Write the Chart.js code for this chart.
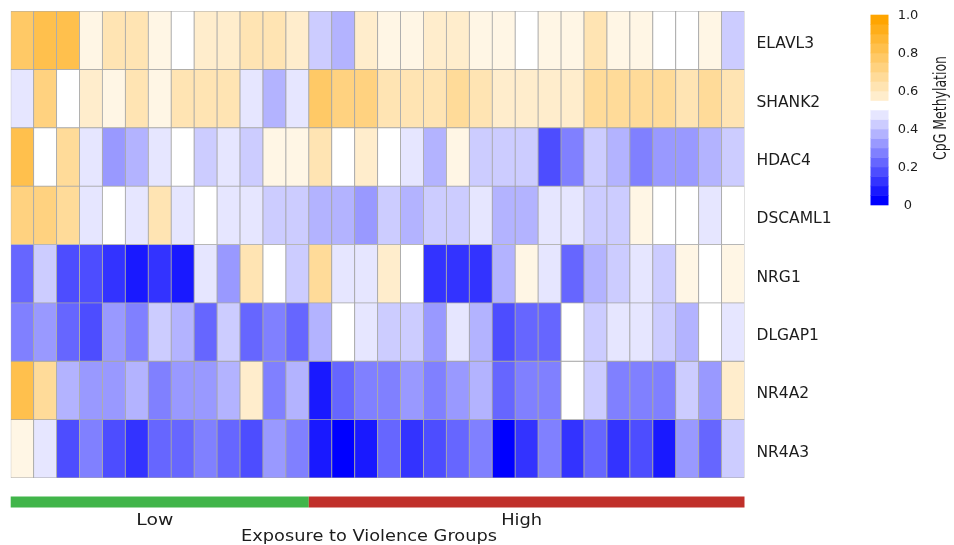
<!DOCTYPE html>
<html>
<head>
<meta charset="utf-8">
<script src="https://cdn.jsdelivr.net/npm/chart.js@4.4.0/dist/chart.umd.min.js"></script>
<style>
html,body{margin:0;padding:0;background:#ffffff;}
#wrap{width:954px;height:545px;position:relative;}
</style>
</head>
<body>
<div id="wrap"><canvas id="c"></canvas></div>
<script>
// ---- data ----
const genes = ['ELAVL3','SHANK2','HDAC4','DSCAML1','NRG1','DLGAP1','NR4A2','NR4A3'];
const samples = ['S1','S2','S3','S4','S5','S6','S7','S8','S9','S10','S11','S12','S13','S14','S15','S16',
                 'S17','S18','S19','S20','S21','S22','S23','S24','S25','S26','S27','S28','S29','S30','S31','S32'];
const groupNames = ['Low','High'];
const groupSizes = [13, 19];
const groupColors = ['#41b54a','#c0302a'];
const groupAxisTitle = 'Exposure to Violence Groups';

const elavl3  = [0.8,0.85,0.85,0.55,0.65,0.65,0.55,0.5,0.6,0.6,0.65,0.65,0.6,0.4,0.35,0.6,0.55,0.55,0.6,0.6,0.55,0.55,0.5,0.55,0.55,0.65,0.55,0.55,0.5,0.5,0.55,0.4];
const shank2  = [0.45,0.75,0.5,0.6,0.55,0.65,0.55,0.65,0.65,0.65,0.45,0.35,0.45,0.8,0.75,0.75,0.65,0.65,0.65,0.7,0.65,0.6,0.6,0.6,0.6,0.7,0.7,0.7,0.7,0.65,0.7,0.65];
const hdac4   = [0.85,0.5,0.7,0.45,0.3,0.35,0.45,0.5,0.4,0.45,0.4,0.55,0.55,0.65,0.5,0.6,0.5,0.45,0.35,0.55,0.4,0.4,0.4,0.15,0.25,0.4,0.35,0.25,0.3,0.3,0.35,0.4];
const dscaml1 = [0.75,0.75,0.7,0.45,0.5,0.45,0.65,0.45,0.5,0.45,0.45,0.4,0.4,0.35,0.35,0.3,0.4,0.35,0.4,0.4,0.45,0.35,0.35,0.45,0.45,0.4,0.4,0.55,0.5,0.5,0.45,0.5];
const nrg1    = [0.2,0.4,0.15,0.15,0.1,0.05,0.1,0.05,0.45,0.3,0.65,0.5,0.4,0.7,0.45,0.45,0.6,0.5,0.1,0.1,0.1,0.35,0.55,0.45,0.2,0.35,0.4,0.45,0.4,0.55,0.5,0.55];
const dlgap1  = [0.25,0.3,0.2,0.15,0.3,0.25,0.4,0.35,0.2,0.4,0.2,0.25,0.2,0.35,0.5,0.45,0.4,0.4,0.3,0.45,0.35,0.15,0.2,0.2,0.5,0.4,0.45,0.45,0.4,0.35,0.5,0.45];
const nr4a2   = [0.85,0.7,0.35,0.3,0.3,0.35,0.25,0.3,0.3,0.35,0.6,0.25,0.35,0.05,0.2,0.25,0.25,0.3,0.25,0.3,0.35,0.2,0.25,0.25,0.5,0.4,0.25,0.25,0.25,0.4,0.3,0.6];
const nr4a3   = [0.55,0.45,0.15,0.25,0.15,0.1,0.2,0.2,0.25,0.2,0.15,0.3,0.25,0.05,0,0.05,0.2,0.1,0.15,0.2,0.25,0,0.1,0.25,0.1,0.2,0.1,0.15,0.05,0.3,0.2,0.4];
const methylation = [elavl3, shank2, hdac4, dscaml1, nrg1, dlgap1, nr4a2, nr4a3];

const colorbarTicks = [0, 0.2, 0.4, 0.6, 0.8, 1.0];
const colorbarTickLabels = ['0','0.2','0.4','0.6','0.8','1.0'];
const colorbarTitle = 'CpG Methylation';

// ---- colour scale ----
function colorFor(v){
  if (v <= 0.5){
    const t = (0.5 - v) / 0.5;
    const c = Math.round(255 * (1 - t));
    return `rgb(${c},${c},255)`;
  }
  const t = (v - 0.5) / 0.5;
  return `rgb(255,${Math.round(255 - 90 * t)},${Math.round(255 * (1 - t))})`;
}

const TEXT = '#1c1c1c';
const FONT = "'DejaVu Sans', 'Open Sans', sans-serif";

function stretchedText(ctx, text, x, y, fontPx, targetW){
  ctx.save();
  ctx.font = `${fontPx}px ${FONT}`;
  const w = ctx.measureText(text).width;
  const k = targetW / w;
  ctx.translate(x, y);
  ctx.scale(k, 1);
  ctx.textAlign = 'center';
  ctx.textBaseline = 'middle';
  ctx.fillText(text, 0, 0);
  ctx.restore();
}

const extras = {
  id: 'extras',
  afterDraw(chart){
    const ctx = chart.ctx;
    const xs = chart.scales.x;
    const n = samples.length;
    const cw = (xs.right - xs.left) / n;
    ctx.save();
    ctx.fillStyle = TEXT;
    // group bar
    let start = 0;
    const labelX = [];
    groupNames.forEach((g, i) => {
      const x0 = xs.getPixelForValue(start) - cw / 2;
      const x1 = xs.getPixelForValue(start + groupSizes[i] - 1) + cw / 2;
      ctx.fillStyle = groupColors[i];
      ctx.fillRect(x0, 496.5, x1 - x0, 11);
      labelX.push((x0 + x1) / 2 - 5);
      start += groupSizes[i];
    });
    ctx.fillStyle = TEXT;
    stretchedText(ctx, groupNames[0], labelX[0], 521, 15, 37);
    stretchedText(ctx, groupNames[1], labelX[1], 521, 15, 41);
    stretchedText(ctx, groupAxisTitle, 369, 537, 15, 256);

    // colour bar
    const cbTop = 15, cbBottom = 205, cbX = 870.5, cbW = 18;
    const yOf = v => cbBottom - v * (cbBottom - cbTop);
    for (let k = 0; k < 20; k++){
      const lo = k * 0.05, hi = lo + 0.05;
      const v = lo < 0.5 - 1e-9 ? lo : (lo < 0.55 - 1e-9 ? 0.5 : hi);
      ctx.fillStyle = colorFor(v);
      const yTop = yOf(hi), yBot = yOf(lo);
      ctx.fillRect(cbX, yTop - 0.3, cbW, yBot - yTop + 0.6);
    }
    ctx.fillStyle = TEXT;
    ctx.font = `13px ${FONT}`;
    ctx.textAlign = 'center';
    ctx.textBaseline = 'middle';
    colorbarTicks.forEach((t, i) => ctx.fillText(colorbarTickLabels[i], 908, yOf(t) + 1));
    ctx.translate(941, 108);
    ctx.rotate(-Math.PI / 2);
    stretchedText(ctx, colorbarTitle, 0, 0, 18, 104);
    ctx.restore();
  }
};

const datasets = genes.map((g, r) => ({
  label: g,
  data: samples.map(() => [r, r + 1]),
  backgroundColor: methylation[r].map(colorFor),
  borderColor: '#a6a6a6',
  borderWidth: 0.8,
  borderSkipped: false,
  grouped: false,
  categoryPercentage: 1,
  barPercentage: 1
}));

new Chart(document.getElementById('c'), {
  type: 'bar',
  data: { labels: samples, datasets },
  options: {
    responsive: true,
    maintainAspectRatio: false,
    animation: false,
    layout: { padding: { left: 10.7, top: 11, right: 0, bottom: 67 } },
    plugins: { legend: { display: false }, tooltip: { enabled: false } },
    scales: {
      x: { type: 'category', display: false, offset: true },
      y: {
        type: 'linear', min: 0, max: genes.length, reverse: true, position: 'right',
        grid: { display: false, drawTicks: false },
        border: { display: false },
        afterBuildTicks: s => { s.ticks = genes.map((g, i) => ({ value: i + 0.5 })); },
        afterFit: s => { s.width = 954 - 744.5; s.paddingTop = 0; s.paddingBottom = 0; },
        ticks: {
          callback: (v, i) => genes[i],
          padding: 12,
          labelOffset: 4,
          color: TEXT,
          font: { family: FONT, size: 15.5 }
        }
      }
    }
  },
  plugins: [extras]
});
</script>
</body>
</html>
